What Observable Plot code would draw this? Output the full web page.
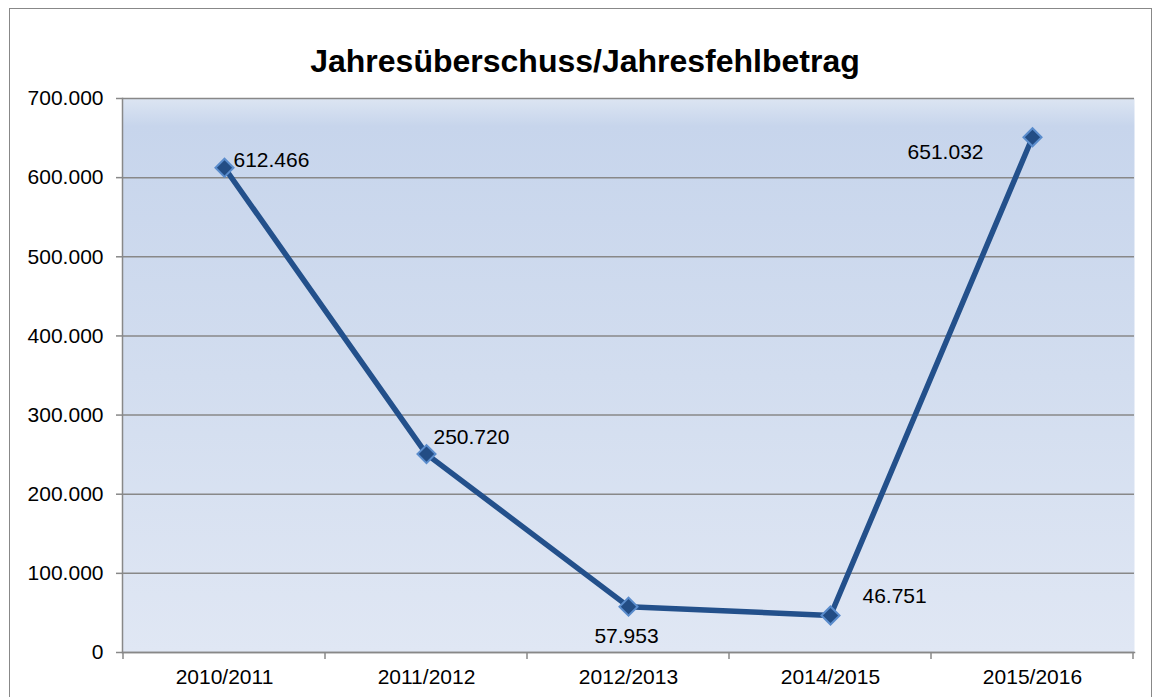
<!DOCTYPE html>
<html>
<head>
<meta charset="utf-8">
<script src="https://cdn.jsdelivr.net/npm/d3@7"></script>
<script src="https://cdn.jsdelivr.net/npm/@observablehq/plot@0.6"></script>
<style>
  html, body { margin: 0; padding: 0; background: #fff; }
  #wrap { position: relative; width: 1154px; height: 697px; overflow: hidden; font-family: "Liberation Sans", Arial, sans-serif; }
  #border { position: absolute; left: 9px; top: 8px; width: 1143px; height: 720px; border: 1.5px solid #888; box-sizing: border-box; }
  #title { position: absolute; left: 0; width: 1170px; top: 43px; line-height: 37px; text-align: center; font-weight: bold; font-size: 32px; color: #000; }
  #chart { position: absolute; left: 0; top: 0; }
</style>
</head>
<body>
<div id="wrap">
  <div id="border"></div>
  <div id="chart"></div>
  <div id="title">Jahresüberschuss/Jahresfehlbetrag</div>
</div>
<script>
const categories = ["2010/2011", "2011/2012", "2012/2013", "2014/2015", "2015/2016"];
const values = [612466, 250720, 57953, 46751, 651032];
const yTicks = [0, 100000, 200000, 300000, 400000, 500000, 600000, 700000];

const data = categories.map((c, i) => ({cat: c, value: values[i]}));
const de = d3.formatLocale({decimal: ",", thousands: ".", grouping: [3], currency: ["", " €"]});
const fmt = de.format(",");

const gray = "#888888";
const font = "'Liberation Sans', Arial, sans-serif";
const fs = 21;

const boundaryTicks = (index, scales, values, dimensions) => {
  const x = scales.x;
  const bw = x.bandwidth();
  const g = d3.create("svg:g");
  const xs = categories.map(c => x(c)).concat([x(categories[categories.length - 1]) + bw]);
  const yb = dimensions.height - dimensions.marginBottom;
  for (const xv of xs) {
    g.append("line").attr("x1", xv).attr("x2", xv).attr("y1", yb).attr("y2", yb + 7)
      .attr("stroke", gray).attr("stroke-width", 1.5);
  }
  return g.node();
};

const plot = Plot.plot({
  width: 1154,
  height: 697,
  marginLeft: 122,
  marginRight: 20,
  marginTop: 98,
  marginBottom: 45,
  style: {fontFamily: font, fontSize: fs + "px", color: "#000", background: "transparent"},
  x: {type: "band", domain: categories, padding: 0, label: null},
  y: {domain: [0, 700000], label: null},
  marks: [
    Plot.frame({fill: "url(#bgGrad)", stroke: "none"}),
    Plot.ruleY(yTicks, {stroke: gray, strokeWidth: 1.5, strokeOpacity: 1}),
    Plot.axisY(yTicks, {tickFormat: fmt, tickSize: 6, tickPadding: 13, stroke: gray, strokeWidth: 1.5, fontSize: fs, label: null}),
    Plot.axisX({tickSize: 0, tickPadding: 17, fontSize: fs, label: null}),
    Plot.frame({anchor: "left", stroke: gray, strokeWidth: 1.5}),
    Plot.frame({anchor: "bottom", stroke: gray, strokeWidth: 1.5}),
    boundaryTicks,
    Plot.line(data, {x: "cat", y: "value", stroke: "#23508b", strokeWidth: 5.5, strokeLinejoin: "round"}),
    Plot.dot(data, {x: "cat", y: "value", symbol: "square", rotate: 45, r: 7.2, fill: "#234d85", stroke: "#5a8ccc", strokeWidth: 2}),
    Plot.text(data.filter((d, i) => i === 0), {x: "cat", y: "value", text: d => fmt(d.value), textAnchor: "start", dx: 9, dy: -8, fontSize: fs, fill: "#000"}),
    Plot.text(data.filter((d, i) => i === 1), {x: "cat", y: "value", text: d => fmt(d.value), textAnchor: "start", dx: 7, dy: -17, fontSize: fs, fill: "#000"}),
    Plot.text(data.filter((d, i) => i === 2), {x: "cat", y: "value", text: d => fmt(d.value), textAnchor: "middle", dx: -2, dy: 30, fontSize: fs, fill: "#000"}),
    Plot.text(data.filter((d, i) => i === 3), {x: "cat", y: "value", text: d => fmt(d.value), textAnchor: "start", dx: 32, dy: -19, fontSize: fs, fill: "#000"}),
    Plot.text(data.filter((d, i) => i === 4), {x: "cat", y: "value", text: d => fmt(d.value), textAnchor: "end", dx: -49, dy: 15, fontSize: fs, fill: "#000"})
  ]
});

const svg = d3.select(plot);
const defs = svg.insert("defs", ":first-child");
const grad = defs.append("linearGradient").attr("id", "bgGrad").attr("x1", 0).attr("y1", 0).attr("x2", 0).attr("y2", 1);
grad.append("stop").attr("offset", "0%").attr("stop-color", "#dce5f2");
grad.append("stop").attr("offset", "5%").attr("stop-color", "#c7d5ec");
grad.append("stop").attr("offset", "50%").attr("stop-color", "#d2ddef");
grad.append("stop").attr("offset", "100%").attr("stop-color", "#e0e7f4");
document.getElementById("chart").appendChild(plot);
</script>
</body>
</html>
